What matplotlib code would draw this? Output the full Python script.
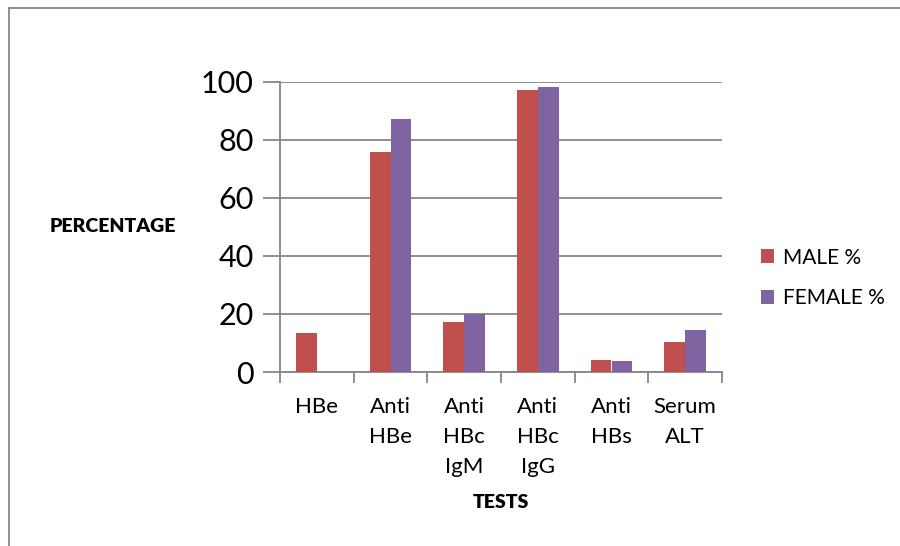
import matplotlib
matplotlib.use("Agg")
import matplotlib.pyplot as plt
import numpy as np
from matplotlib.lines import Line2D

categories = ["HBe", "Anti\nHBe", "Anti\nHBc\nIgM", "Anti\nHBc\nIgG", "Anti\nHBs", "Serum\nALT"]
male = [13.4, 75.9, 17.1, 97.1, 4.2, 10.5]
female = [0, 87.1, 20.1, 98.2, 3.7, 14.4]
series_names = ["MALE %", "FEMALE %"]
yticks = [0, 20, 40, 60, 80, 100]

plt.rcParams['font.family'] = ['Lato', 'DejaVu Sans']
fig = plt.figure(figsize=(9, 5.46), dpi=100)
ax = fig.add_axes([280/900, 1-372/546, 442/900, 290.3/546])

x = np.arange(len(categories))
w = 0.285
gray = "#868686"
b1 = ax.bar(x - w/2, male, w, color="#C0504D", label=series_names[0], zorder=3)
b2 = ax.bar(x + w/2, female, w, color="#8064A2", label=series_names[1], zorder=3)

ax.set_xlim(-0.5, len(categories) - 0.5)
ax.set_ylim(0, 100)
ax.set_yticks(yticks)
ax.set_yticklabels([str(v) for v in yticks], fontsize=22)
ax.yaxis.grid(True, color=gray, linewidth=1.3, zorder=0)
ax.tick_params(axis='y', length=12, width=1.3, color=gray, pad=7)

ax.set_xticks(x)
ax.set_xticklabels(categories, fontsize=16, linespacing=1.62, va='top')
ax.tick_params(axis='x', which='major', length=0, pad=18)
ax.set_xticks(np.arange(len(categories) + 1) - 0.5, minor=True)
ax.tick_params(axis='x', which='minor', length=8, width=1.3, color=gray)

for s in ["top", "right"]:
    ax.spines[s].set_visible(False)
for s in ["left", "bottom"]:
    ax.spines[s].set_color(gray)
    ax.spines[s].set_linewidth(1.3)

fig.text(113/900, 1-226/546, "PERCENTAGE", fontsize=14, fontweight='heavy', ha='center', va='center')
fig.text(501/900, 1-503/546, "TESTS", fontsize=14, fontweight='heavy', ha='center', va='center')

leg = fig.legend(handles=[b1, b2], loc='center left', bbox_to_anchor=(742/900, 1-278/546),
                 frameon=False, fontsize=15, handlelength=0.65, handleheight=0.65,
                 handletextpad=0.4, labelspacing=1.0)

# outer border lines (top and left)
fig.add_artist(Line2D([9/900, 1], [1-8/546, 1-8/546], transform=fig.transFigure, color=gray, linewidth=1.3))
fig.add_artist(Line2D([9/900, 9/900], [0, 1-8/546], transform=fig.transFigure, color=gray, linewidth=1.3))

fig.savefig("out.png", dpi=100)
